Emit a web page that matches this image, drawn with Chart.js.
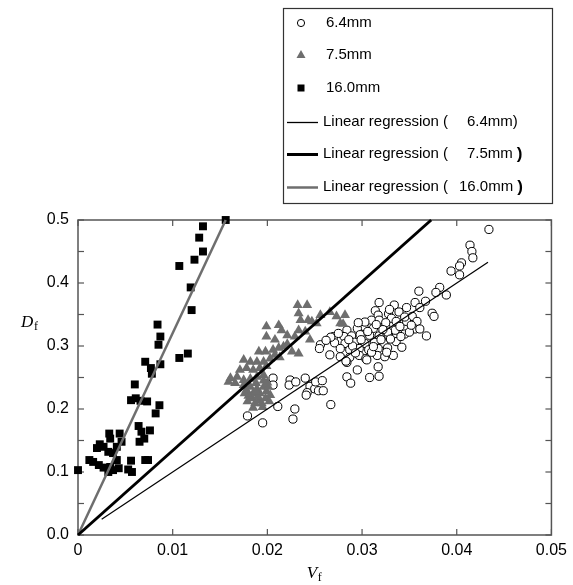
<!DOCTYPE html>
<html>
<head>
<meta charset="utf-8">
<script src="https://cdn.jsdelivr.net/npm/chart.js@4/dist/chart.umd.min.js"></script>
<style>
  body { margin: 0; background: #fff; }
  #wrap { width: 573px; height: 585px; }
</style>
</head>
<body>
<div id="wrap"><canvas id="grafico" width="573" height="585"></canvas></div>
<script>
// series names
var nomes = ['6.4mm', '7.5mm', '16.0mm'];

// 6.4mm (open circles)
var pontos64 = [
  [0.0434, 0.485], [0.0414, 0.460], [0.0416, 0.450], [0.0417, 0.440], [0.0405, 0.432], [0.0403, 0.427], [0.0394, 0.419], [0.0403, 0.413],
  [0.0382, 0.393], [0.0378, 0.385], [0.0389, 0.381], [0.0360, 0.387],
  [0.0356, 0.369], [0.0367, 0.371], [0.0361, 0.361], [0.0347, 0.361], [0.0334, 0.365], [0.0318, 0.369],
  [0.0374, 0.352], [0.0376, 0.347], [0.0314, 0.356], [0.0317, 0.349], [0.0328, 0.351], [0.0339, 0.354], [0.0353, 0.347],
  [0.0358, 0.339], [0.0347, 0.339], [0.0356, 0.327], [0.0361, 0.327], [0.0345, 0.319], [0.0368, 0.316],
  [0.0310, 0.341], [0.0318, 0.341], [0.0331, 0.344], [0.0336, 0.339],
  [0.0302, 0.331], [0.0312, 0.328], [0.0325, 0.331], [0.0295, 0.328], [0.0284, 0.325],
  [0.0270, 0.315], [0.0281, 0.315], [0.0289, 0.316], [0.0298, 0.318], [0.0308, 0.317], [0.0318, 0.316], [0.0328, 0.317],
  [0.0271, 0.305], [0.0282, 0.304], [0.0292, 0.306], [0.0303, 0.304], [0.0313, 0.306], [0.0323, 0.304],
  [0.0277, 0.296], [0.0287, 0.294], [0.0297, 0.296], [0.0307, 0.294], [0.0317, 0.296], [0.0327, 0.297],
  [0.0266, 0.286], [0.0277, 0.283], [0.0287, 0.282], [0.0297, 0.285], [0.0304, 0.280], [0.0316, 0.285], [0.0324, 0.283], [0.0333, 0.285],
  [0.0284, 0.274], [0.0295, 0.262], [0.0256, 0.302], [0.0255, 0.296], [0.0267, 0.314],
  [0.0317, 0.267], [0.0318, 0.252], [0.0308, 0.250], [0.0284, 0.251], [0.0288, 0.241], [0.0283, 0.276],
  [0.0336, 0.307], [0.0342, 0.298], [0.0335, 0.325], [0.0340, 0.331], [0.0350, 0.322], [0.0327, 0.322], [0.0299, 0.310],
  [0.0275, 0.320], [0.0262, 0.309], [0.0290, 0.300], [0.0310, 0.290], [0.0320, 0.310], [0.0303, 0.338], [0.0345, 0.346],
  [0.0329, 0.358], [0.0325, 0.337],
  [0.0293, 0.289], [0.0312, 0.299], [0.0330, 0.311], [0.0341, 0.315], [0.0352, 0.333], [0.0322, 0.326], [0.0286, 0.310],
  [0.0306, 0.323], [0.0296, 0.337], [0.0315, 0.334], [0.0305, 0.278], [0.0326, 0.290],
  [0.0206, 0.249], [0.0206, 0.238], [0.0224, 0.246], [0.0223, 0.238], [0.0230, 0.243], [0.0240, 0.249], [0.0245, 0.236],
  [0.0250, 0.232], [0.0254, 0.229], [0.0259, 0.229], [0.0251, 0.243], [0.0258, 0.245], [0.0242, 0.226], [0.0241, 0.222],
  [0.0267, 0.207], [0.0211, 0.204], [0.0229, 0.200], [0.0227, 0.184], [0.0195, 0.178], [0.0179, 0.189]
];

// 7.5mm (grey triangles)
var pontos75 = [
  [0.0232, 0.365], [0.0242, 0.365], [0.0233, 0.352], [0.0235, 0.341], [0.0243, 0.341], [0.0256, 0.349], [0.0266, 0.354],
  [0.0273, 0.347], [0.0282, 0.349], [0.0277, 0.336], [0.0280, 0.335], [0.0247, 0.339], [0.0252, 0.336],
  [0.0199, 0.331], [0.0212, 0.333], [0.0215, 0.325], [0.0233, 0.325], [0.0240, 0.323],
  [0.0199, 0.315], [0.0208, 0.310], [0.0221, 0.317], [0.0229, 0.315], [0.0245, 0.310],
  [0.0191, 0.291], [0.0198, 0.291], [0.0206, 0.294], [0.0217, 0.299], [0.0226, 0.291], [0.0233, 0.288], [0.0208, 0.286],
  [0.0212, 0.297], [0.0221, 0.303],
  [0.0182, 0.275], [0.0189, 0.275], [0.0175, 0.278], [0.0196, 0.275], [0.0203, 0.280], [0.0213, 0.282],
  [0.0171, 0.262], [0.0178, 0.265], [0.0185, 0.262], [0.0192, 0.265], [0.0199, 0.268],
  [0.0161, 0.249], [0.0168, 0.251], [0.0175, 0.246], [0.0159, 0.243], [0.0166, 0.241], [0.0189, 0.251], [0.0182, 0.248], [0.0196, 0.254],
  [0.0182, 0.235], [0.0189, 0.232], [0.0196, 0.235], [0.0185, 0.225], [0.0192, 0.225], [0.0199, 0.228], [0.0184, 0.217],
  [0.0191, 0.214], [0.0198, 0.217], [0.0187, 0.209], [0.0194, 0.209], [0.0178, 0.230], [0.0201, 0.235], [0.0175, 0.238],
  [0.0188, 0.241], [0.0200, 0.242], [0.0180, 0.221], [0.0203, 0.222], [0.0195, 0.203], [0.0185, 0.202], [0.0190, 0.220], [0.0196, 0.245],
  [0.0179, 0.212], [0.0202, 0.212], [0.0188, 0.228], [0.0176, 0.225]
];

// 16.0mm (black squares)
var pontos160 = [
  [0.0156, 0.500], [0.0132, 0.490], [0.0128, 0.472], [0.0132, 0.450], [0.0123, 0.437], [0.0107, 0.427], [0.0119, 0.393], [0.0120, 0.357],
  [0.0084, 0.334], [0.0087, 0.315], [0.0085, 0.302], [0.0116, 0.288], [0.0107, 0.281], [0.0071, 0.275], [0.0087, 0.271], [0.0077, 0.265],
  [0.0078, 0.256], [0.0060, 0.239],
  [0.0061, 0.217], [0.0056, 0.214], [0.0066, 0.213], [0.0073, 0.212], [0.0086, 0.206], [0.0082, 0.193], [0.0064, 0.173], [0.0076, 0.166],
  [0.0067, 0.164], [0.0070, 0.153], [0.0065, 0.148],
  [0.0033, 0.161], [0.0044, 0.161], [0.0034, 0.153], [0.0046, 0.148], [0.0023, 0.144], [0.0020, 0.138], [0.0027, 0.140], [0.0032, 0.132],
  [0.0041, 0.140], [0.0037, 0.130],
  [0.0012, 0.119], [0.0016, 0.116], [0.0022, 0.111], [0.0027, 0.107], [0.0034, 0.108], [0.0037, 0.103], [0.0032, 0.100], [0.0043, 0.106],
  [0.0041, 0.119], [0.0056, 0.118], [0.0053, 0.104], [0.0057, 0.100], [0.0071, 0.119], [0.0074, 0.119], [0.0000, 0.103]
];

// regression lines (end points)
var reg64 = [[0.0025, 0.025], [0.0433, 0.433]];
var reg75 = [[0, 0], [0.0373, 0.5]];
var reg160 = [[0, 0], [0.0156, 0.5]];

// axis ticks
var ticksX = [0, 0.01, 0.02, 0.03, 0.04, 0.05];
var ticksY = [0, 0.05, 0.1, 0.15, 0.2, 0.25, 0.3, 0.35, 0.4, 0.45, 0.5];

var cinza = '#6e6e6e';
var fonte = '"Liberation Sans", Arial, sans-serif';
var serif = '"Liberation Serif", "Times New Roman", serif';

function xy(lista) {
  return lista.map(function (p) { return { x: p[0], y: p[1] }; });
}

function linha(ctx, x1, y1, x2, y2) {
  ctx.beginPath();
  ctx.moveTo(x1, y1);
  ctx.lineTo(x2, y2);
  ctx.stroke();
}

function marcador(ctx, tipo, x, y) {
  ctx.save();
  if (tipo == 'circle') {
    ctx.fillStyle = '#fff';
    ctx.strokeStyle = '#000';
    ctx.lineWidth = 1;
    ctx.beginPath();
    ctx.arc(x, y, 3.6, 0, Math.PI * 2);
    ctx.fill();
    ctx.stroke();
  } else if (tipo == 'triangle') {
    ctx.fillStyle = cinza;
    ctx.beginPath();
    ctx.moveTo(x, y - 5);
    ctx.lineTo(x + 4.5, y + 3);
    ctx.lineTo(x - 4.5, y + 3);
    ctx.closePath();
    ctx.fill();
  } else {
    ctx.fillStyle = '#000';
    ctx.fillRect(x - 3.5, y - 3.5, 7, 7);
  }
  ctx.restore();
}

// frame with inward ticks, axis titles with subscripts
var moldura = {
  id: 'moldura',
  beforeDatasetsDraw: function (chart) {
    var ctx = chart.ctx, a = chart.chartArea;
    var sx = chart.scales.x, sy = chart.scales.y;
    ctx.save();
    ctx.strokeStyle = '#555';
    ctx.lineWidth = 1.5;
    ctx.strokeRect(a.left, a.top, a.right - a.left, a.bottom - a.top);
    ctx.lineWidth = 1.2;
    ticksX.forEach(function (v) {
      var px = sx.getPixelForValue(v);
      linha(ctx, px, a.bottom, px, a.bottom - 6);
      linha(ctx, px, a.top, px, a.top + 6);
    });
    ticksY.forEach(function (v) {
      var py = sy.getPixelForValue(v);
      linha(ctx, a.left, py, a.left + 6, py);
      linha(ctx, a.right, py, a.right - 6, py);
    });
    ctx.restore();
  },
  afterDraw: function (chart) {
    var ctx = chart.ctx, a = chart.chartArea;
    ctx.save();
    ctx.fillStyle = '#000';
    ctx.textBaseline = 'alphabetic';
    // V_f
    var cx = (a.left + a.right) / 2;
    ctx.font = 'italic 17px ' + serif;
    ctx.fillText('V', cx - 8, 578);
    ctx.font = '12px ' + serif;
    ctx.fillText('f', cx + 3, 581);
    // D_f
    ctx.font = 'italic 17px ' + serif;
    ctx.fillText('D', 21, 327);
    ctx.font = '12px ' + serif;
    ctx.fillText('f', 34, 330);
    ctx.restore();
  }
};

// legend box drawn at the top
var legenda = {
  id: 'legenda',
  afterDraw: function (chart) {
    var ctx = chart.ctx;
    ctx.save();
    ctx.strokeStyle = '#333';
    ctx.lineWidth = 1.2;
    ctx.strokeRect(283.5, 8.5, 269, 195);
    ctx.fillStyle = '#000';
    ctx.textBaseline = 'middle';
    ctx.font = '15px ' + fonte;
    var tipos = ['circle', 'triangle', 'rect'];
    var ys = [23, 55, 88];
    for (var i = 0; i < 3; i++) {
      marcador(ctx, tipos[i], 301, ys[i]);
      ctx.fillText(nomes[i], 326, ys[i]);
    }
    var yl = [122, 154, 187];
    var larg = [1.3, 3, 2.5];
    var cores = ['#000', '#000', cinza];
    for (var j = 0; j < 3; j++) {
      ctx.strokeStyle = cores[j];
      ctx.lineWidth = larg[j];
      linha(ctx, 287, Math.round(yl[j]) + 0.5, 318, Math.round(yl[j]) + 0.5);
      ctx.font = '15px ' + fonte;
      ctx.fillText('Linear regression (', 323, yl[j]);
      var xn = j == 2 ? 459 : 467;
      if (j == 0) {
        ctx.fillText(nomes[j] + ')', xn, yl[j]);
      } else {
        ctx.fillText(nomes[j], xn, yl[j]);
        var w = ctx.measureText(nomes[j]).width;
        ctx.font = 'bold 17px ' + fonte;
        ctx.fillText(')', xn + w + 4, yl[j]);
      }
    }
    ctx.restore();
  }
};

new Chart(document.getElementById('grafico').getContext('2d'), {
  type: 'scatter',
  data: {
    datasets: [{
      label: 'Linear regression (6.4mm)',
      data: xy(reg64),
      showLine: true,
      borderColor: '#000',
      borderWidth: 1.2,
      pointRadius: 0,
      clip: false
    }, {
      label: 'Linear regression (7.5mm)',
      data: xy(reg75),
      showLine: true,
      borderColor: '#000',
      borderWidth: 3,
      pointRadius: 0,
      clip: false
    }, {
      label: 'Linear regression (16.0mm)',
      data: xy(reg160),
      showLine: true,
      borderColor: cinza,
      borderWidth: 2.5,
      pointRadius: 0,
      clip: false
    }, {
      label: nomes[2],
      data: xy(pontos160),
      pointStyle: 'rect',
      pointRadius: 5.6,
      pointBackgroundColor: '#000',
      pointBorderColor: '#000',
      pointBorderWidth: 0,
      clip: false
    }, {
      label: nomes[1],
      data: xy(pontos75),
      pointStyle: 'triangle',
      pointRadius: 5.8,
      pointBackgroundColor: cinza,
      pointBorderColor: cinza,
      pointBorderWidth: 0,
      clip: false
    }, {
      label: nomes[0],
      data: xy(pontos64),
      pointStyle: 'circle',
      pointRadius: 4.1,
      pointBackgroundColor: '#fff',
      pointBorderColor: '#000',
      pointBorderWidth: 1,
      clip: false
    }]
  },
  options: {
    responsive: false,
    animation: false,
    layout: {
      padding: { top: 220, left: 0, right: 21, bottom: 0 }
    },
    plugins: {
      legend: { display: false },
      tooltip: { enabled: false }
    },
    scales: {
      x: {
        type: 'linear',
        min: 0,
        max: 0.05,
        afterFit: function (scale) { scale.height = 50; },
        afterBuildTicks: function (scale) {
          scale.ticks = ticksX.map(function (v) { return { value: v }; });
        },
        grid: { display: false, drawTicks: false },
        border: { display: false },
        ticks: {
          padding: 6,
          color: '#000',
          font: { family: fonte, size: 16 },
          callback: function (v) { return v === 0 ? '0' : v.toFixed(2); }
        }
      },
      y: {
        type: 'linear',
        min: 0,
        max: 0.5,
        afterFit: function (scale) { scale.width = 78; },
        afterBuildTicks: function (scale) {
          scale.ticks = ticksY.filter(function (v, i) { return i % 2 == 0; })
            .map(function (v) { return { value: v }; });
        },
        grid: { display: false, drawTicks: false },
        border: { display: false },
        ticks: {
          padding: 9,
          color: '#000',
          font: { family: fonte, size: 16 },
          callback: function (v) { return v.toFixed(1); }
        }
      }
    }
  },
  plugins: [moldura, legenda]
});
</script>
</body>
</html>
